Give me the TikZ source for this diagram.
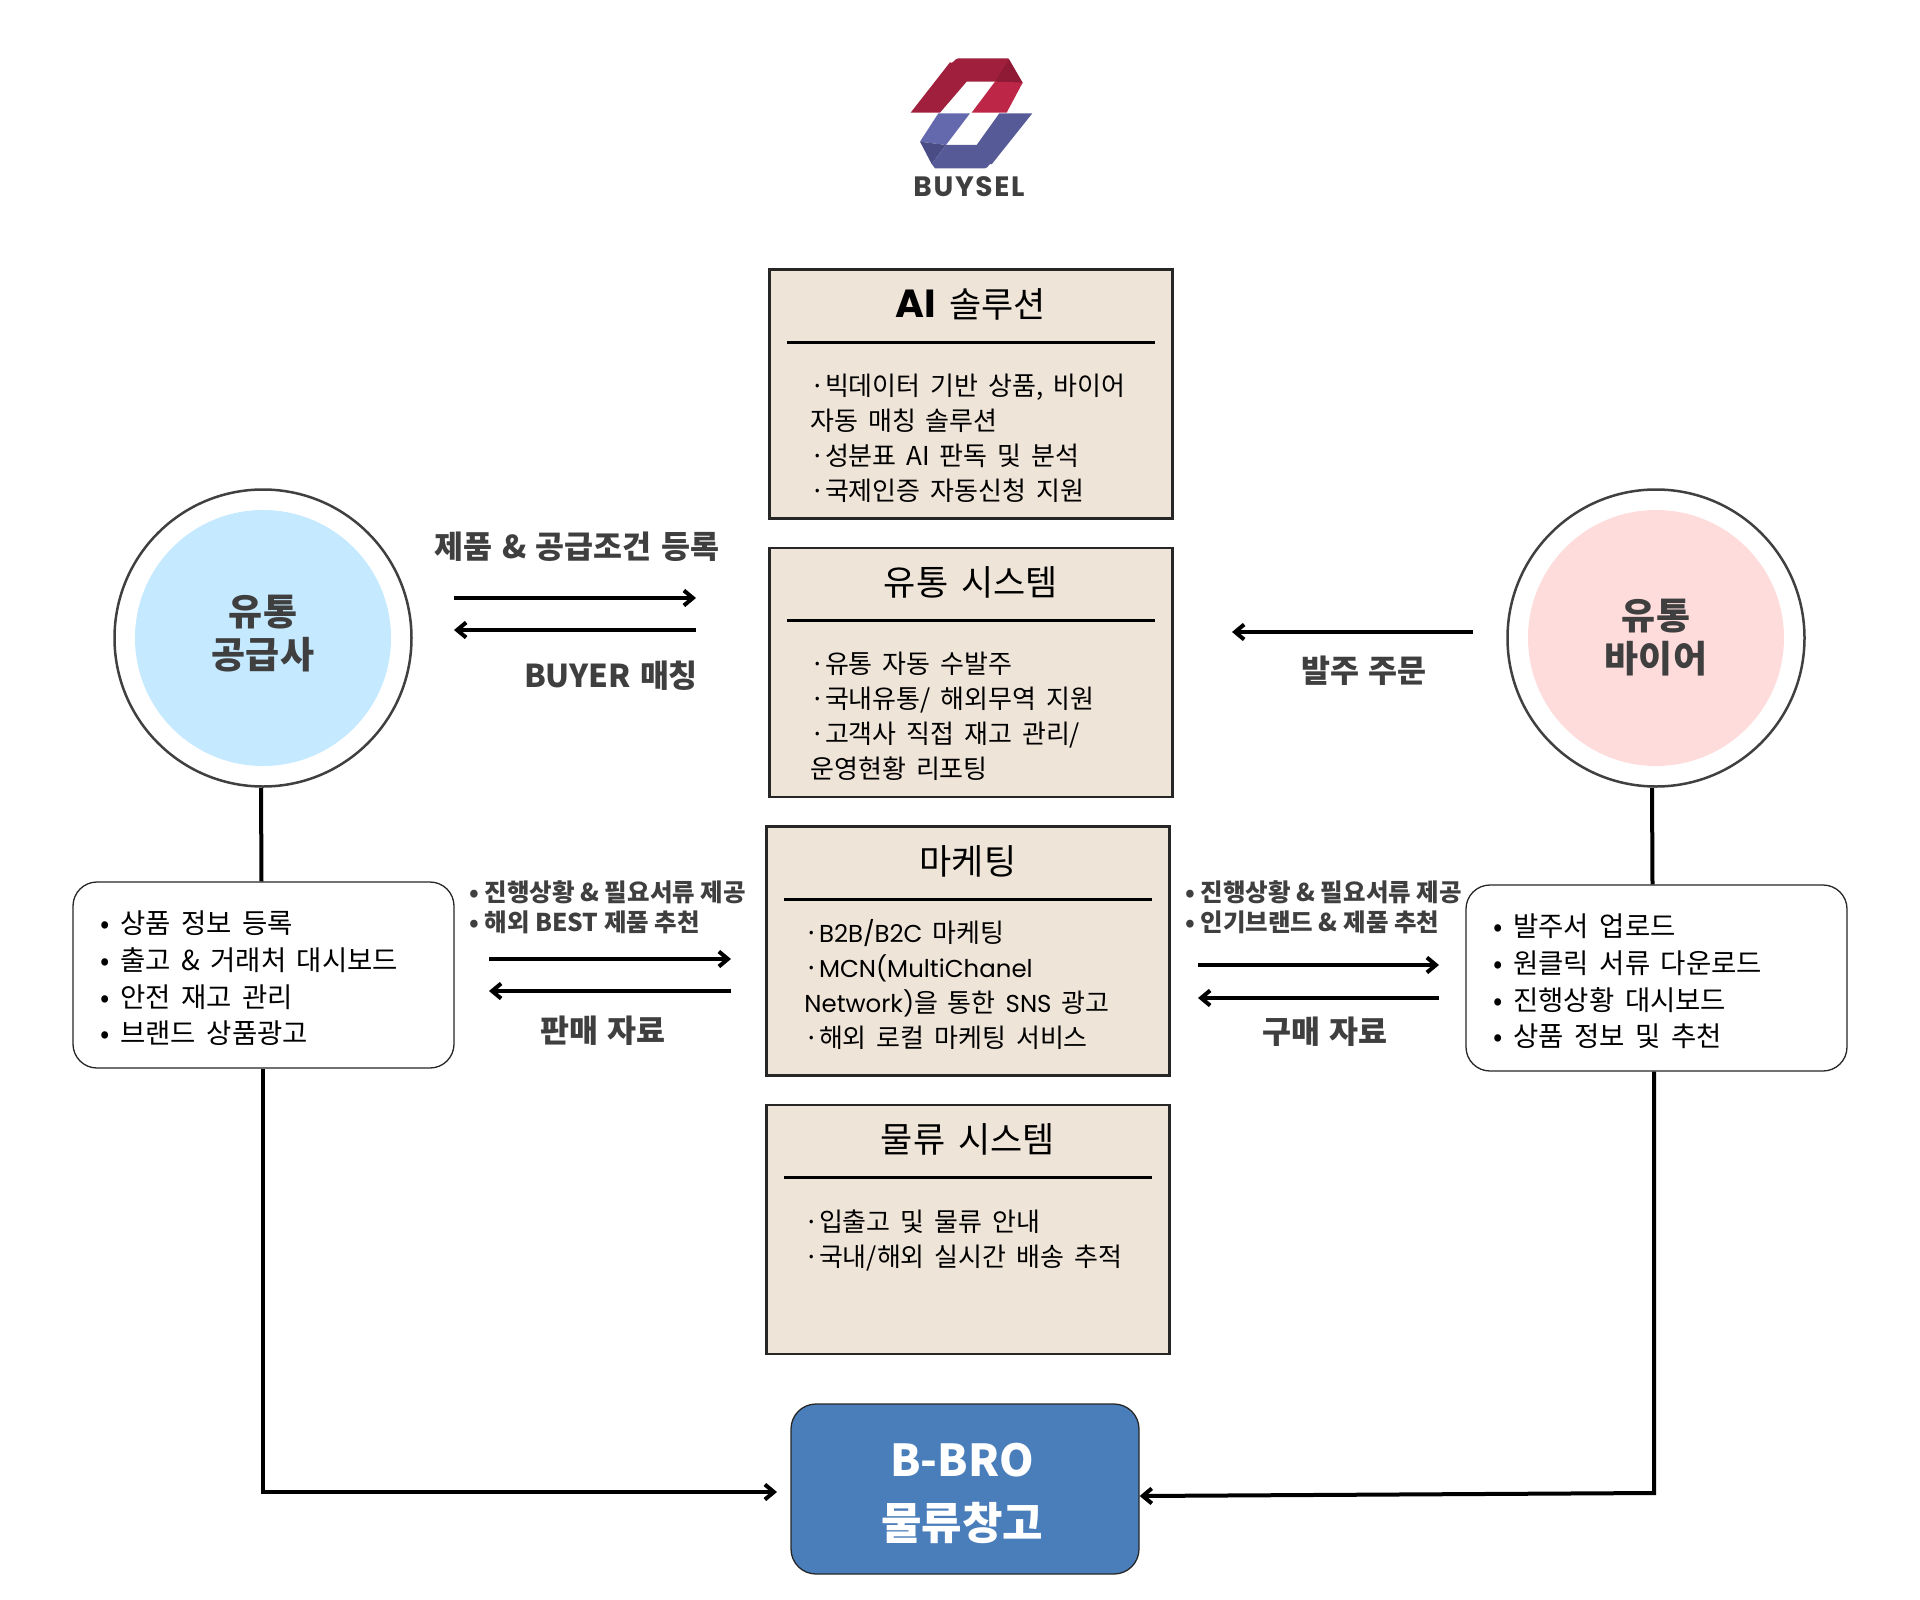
\documentclass[tikz,border=0pt]{standalone}
\usepackage{fontspec}
\setmainfont{Noto Sans CJK KR}
\newfontfamily\poppinsfont[Scale=0.94]{Poppins}
\newfontfamily\aifont[Scale=1.12]{Poppins}
\newfontfamily\logofont[LetterSpace=6]{Poppins}
\usetikzlibrary{arrows.meta, positioning}
\definecolor{panelbg}{HTML}{EFE4D8}
\definecolor{edgegray}{HTML}{404040}
\definecolor{labelgray}{HTML}{3F3F3F}
\definecolor{skyfill}{HTML}{C5E9FF}
\definecolor{pinkfill}{HTML}{FFDCDC}
\definecolor{wareblue}{HTML}{4A7EBB}
\definecolor{logored}{HTML}{A01F3C}
\definecolor{logoredlt}{HTML}{BE2648}
\definecolor{logoreddk}{HTML}{8E1A35}
\definecolor{logoblue}{HTML}{565A97}
\definecolor{logobluelt}{HTML}{6468AD}
\definecolor{logobluedk}{HTML}{4A4C85}

\begin{document}
\begin{tikzpicture}[
		x=1pt, y=-1pt,
		panel/.style={rectangle, draw=black!85, line width=2.5pt, fill=panelbg, minimum width=403pt, minimum height=249pt},
		paneltitle/.style={inner sep=0pt, font={\fontsize{35}{42}\selectfont\spaceskip.38em\relax}},
		panelbody/.style={anchor=north west, align=left, inner sep=0pt, font={\fontsize{26}{35}\selectfont\spaceskip.38em\relax}},
		titlerule/.style={line width=3pt},
		outer/.style={circle, draw=edgegray, line width=2.5pt, minimum size=297pt},
		inner/.style={circle, minimum size=256pt},
		ringlabel/.style={align=center, inner sep=0pt, text=labelgray, font=\bfseries\fontsize{37}{43}\selectfont},
		listbox/.style={rectangle, rounded corners=24pt, draw=black!85, line width=1.3pt, fill=white, minimum width=381pt, minimum height=186pt},
		listtext/.style={anchor=west, align=left, inner sep=0pt, font={\fontsize{27.5}{36.6}\selectfont\spaceskip.38em\relax}},
		biglabel/.style={text=labelgray, inner sep=0pt, font={\bfseries\fontsize{31.5}{36}\selectfont\spaceskip.3em\relax}},
		smalllabel/.style={anchor=west, align=left, text=labelgray, inner sep=0pt, font=\bfseries\fontsize{24.5}{30}\selectfont},
		arrow/.style={-{Straight Barb[length=9pt, width=15pt]}, line width=4pt},
		link/.style={line width=4pt}
		]
		\useasboundingbox (0,0) rectangle (1920,1600);
		
		% logo
		\begin{scope}[shift={(860,30)}, x=0.3333pt, y=-0.3333pt]
			\fill[logored] (152,248) -- (270,97) to[out=-52, in=180] (295,85) -- (445,85) -- (488,160) -- (405,155) -- (320,155) -- (240,248) -- cycle;
			\fill[logoreddk] (405,155) -- (447,88) -- (488,158) -- cycle;
			\fill[logoredlt] (335,248) -- (405,155) -- (488,158) -- (440,248) -- cycle;
			\fill[logobluelt] (180,335) -- (235,250) -- (330,250) -- (258,345) -- cycle;
			\fill[logobluedk] (180,335) -- (258,345) -- (215,402) -- cycle;
			\fill[logoblue] (215,402) -- (258,345) -- (350,345) -- (418,250) -- (517,250) -- (395,403) to[out=128, in=0] (375,415) -- (225,415) -- cycle;
		\end{scope}
		\node[inner sep=0pt, text=labelgray, font=\logofont\bfseries\fontsize{28}{32}\selectfont] (logotext) at (969,187) {BUYSEL};
		
		% panels in the middle
		\node[panel] (ai) at (971,394) {};
		\node[panel, below=27pt of ai] (dist) {};
		\node[panel, below=27pt of dist, xshift=-3pt] (mkt) {};
		\node[panel, below=27pt of mkt] (logi) {};
		
		\node[paneltitle] (aititle) at ([yshift=-36pt]ai.north) {{\aifont\bfseries AI} 솔루션};
		\draw[titlerule] ([xshift=19pt,yshift=-74pt]ai.north west) -- ([xshift=-19pt,yshift=-74pt]ai.north east);
		\node[panelbody] (aibody) at ([xshift=42pt,yshift=-106pt]ai.north west) {·빅데이터 기반 상품, 바이어\\자동 매칭 솔루션\\·성분표 AI 판독 및 분석\\·국제인증 자동신청 지원};
		
		\node[paneltitle] (disttitle) at ([yshift=-36pt]dist.north) {유통 시스템};
		\draw[titlerule] ([xshift=19pt,yshift=-74pt]dist.north west) -- ([xshift=-19pt,yshift=-74pt]dist.north east);
		\node[panelbody] (distbody) at ([xshift=42pt,yshift=-105pt]dist.north west) {·유통 자동 수발주\\·국내유통/ 해외무역 지원\\·고객사 직접 재고 관리/\\운영현황 리포팅};
		
		\node[paneltitle] (mkttitle) at ([yshift=-36pt]mkt.north) {마케팅};
		\draw[titlerule] ([xshift=19pt,yshift=-74pt]mkt.north west) -- ([xshift=-19pt,yshift=-74pt]mkt.north east);
		\node[panelbody] (mktbody) at ([xshift=39pt,yshift=-94pt]mkt.north west) {·{\poppinsfont B2B/B2C} 마케팅\\·{\poppinsfont MCN(MultiChanel}\\{\poppinsfont Network)}을 통한 {\poppinsfont SNS} 광고\\·해외 로컬 마케팅 서비스};
		
		\node[paneltitle] (logititle) at ([yshift=-36pt]logi.north) {물류 시스템};
		\draw[titlerule] ([xshift=19pt,yshift=-74pt]logi.north west) -- ([xshift=-19pt,yshift=-74pt]logi.north east);
		\node[panelbody] (logibody) at ([xshift=39pt,yshift=-106pt]logi.north west) {·입출고 및 물류 안내\\·국내/해외 실시간 배송 추적};
		
		% two sides
		\node[outer] (supring) at (263,638) {};
		\node[inner, fill=skyfill] (sup) at (supring.center) {};
		\node[ringlabel] (suplabel) at ([yshift=4pt]sup.center) {유통\\공급사};
		\node[outer] (buyring) at (1656,638) {};
		\node[inner, fill=pinkfill] (buy) at (buyring.center) {};
		\node[ringlabel] (buylabel) at (buy.center) {유통\\바이어};
		
		\node[listbox] (suplist) at (263.5,975) {};
		\node[listtext] (suptext) at ([xshift=28pt,yshift=-3.5pt]suplist.west) {• 상품 정보 등록\\• 출고 \& 거래처 대시보드\\• 안전 재고 관리\\• 브랜드 상품광고};
		\node[listbox] (buylist) at (1656.5,978) {};
		\node[listtext] (buytext) at ([xshift=28pt,yshift=-3.5pt]buylist.west) {• 발주서 업로드\\• 원클릭 서류 다운로드\\• 진행상황 대시보드\\• 상품 정보 및 추천};
		
		\node[rectangle, rounded corners=25pt, draw=black!85, line width=1.3pt, fill=wareblue, minimum width=348pt, minimum height=170pt] (ware) at (965,1489) {};
		\node[align=center, inner sep=0pt, text=white, font=\bfseries\fontsize{44}{63}\selectfont] (warelabel) at ([xshift=-3pt,yshift=-4pt]ware.center) {B-BRO\\물류창고};
		
		% free ends of the arrows
		\coordinate (a1l) at (454,598);
		\coordinate (a1r) at (696,598);
		\coordinate (a2l) at (454,630);
		\coordinate (a2r) at (696,630);
		\coordinate (b1l) at (1232,632);
		\coordinate (b1r) at (1473,632);
		\coordinate (c1l) at (489,959);
		\coordinate (c1r) at (731,959);
		\coordinate (c2l) at (489,991);
		\coordinate (c2r) at (731,991);
		\coordinate (d1l) at (1198,965);
		\coordinate (d1r) at (1439,965);
		\coordinate (d2l) at (1198,998);
		\coordinate (d2r) at (1439,998);
		\coordinate (wareleft) at (777,1492);
		\coordinate (buycorner) at (1654,1493);
		
		\draw[arrow] (a1l) -- (a1r);
		\draw[arrow] (a2r) -- (a2l);
		\draw[arrow] (b1r) -- (b1l);
		\draw[arrow] (c1l) -- (c1r);
		\draw[arrow] (c2r) -- (c2l);
		\draw[arrow] (d1l) -- (d1r);
		\draw[arrow] (d2r) -- (d2l);
		
		\draw[link] ([xshift=-2pt]supring.south) -- ([xshift=-2pt]suplist.north);
		\draw[link] ([xshift=-4pt]buyring.south) -- ([xshift=-4pt]buylist.north);
		\draw[arrow] ([xshift=-1pt]suplist.south) |- (wareleft);
		\draw[arrow] ([xshift=-2.5pt]buylist.south) -- (buycorner) -- ([yshift=-7pt]ware.east);
		
		\node[biglabel] (l1) at (577,547) {제품 \& 공급조건 등록};
		\node[biglabel] (l2) at (611,676) {BUYER 매칭};
		\node[biglabel] (l3) at (1364,671) {발주 주문};
		\node[biglabel] (l4) at (603,1031) {판매 자료};
		\node[biglabel] (l5) at (1325,1032) {구매 자료};
		\node[smalllabel] (l6) at (469,907) {• 진행상황 \& 필요서류 제공\\• 해외 BEST 제품 추천};
		\node[smalllabel] (l7) at (1185,907) {• 진행상황 \& 필요서류 제공\\• 인기브랜드 \& 제품 추천};
		
	\end{tikzpicture}
\end{document}
